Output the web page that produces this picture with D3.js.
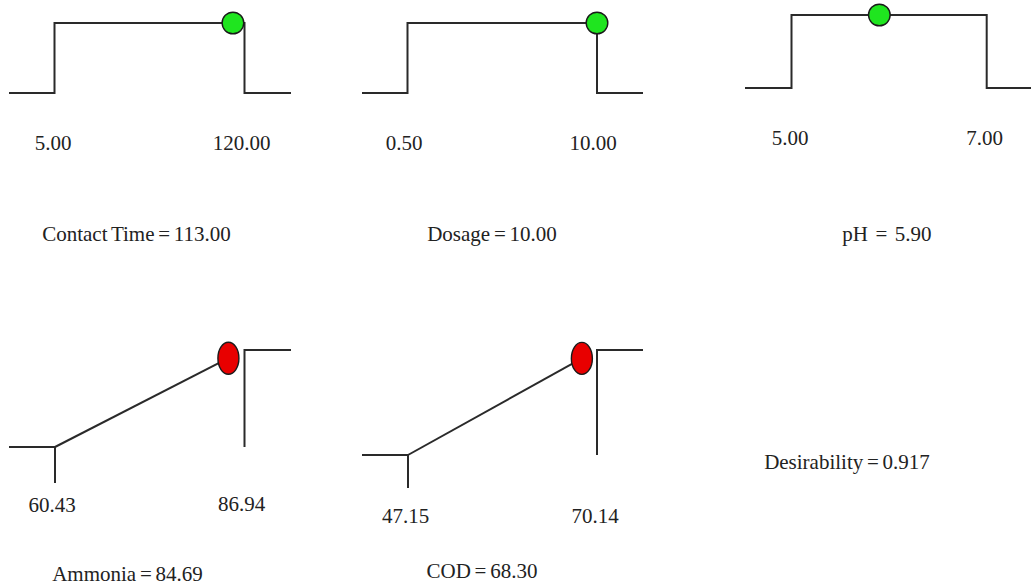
<!DOCTYPE html>
<html>
<head>
<meta charset="utf-8">
<script src="https://cdn.jsdelivr.net/npm/d3@7/dist/d3.min.js"></script>
<style>
  html, body { margin: 0; padding: 0; background: #fff; }
  svg { display: block; }
  text { font-family: "Liberation Serif", "Times New Roman", serif; fill: #222; }
</style>
</head>
<body>
<svg id="chart" width="1031" height="586"></svg>
<script>
// ---- data ----
const factorNames = ["Contact Time", "Dosage", "pH"];
const factorLow = [5, 0.5, 5];
const factorHigh = [120, 10, 7];
const factorValue = [113, 10, 5.9];
const factorLowLabel = ["5.00", "0.50", "5.00"];
const factorHighLabel = ["120.00", "10.00", "7.00"];
const factorTitle = ["Contact Time = 113.00", "Dosage = 10.00", "pH  =  5.90"];

const responseNames = ["Ammonia", "COD"];
const responseLow = [60.43, 47.15];
const responseHigh = [86.94, 70.14];
const responseValue = [84.69, 68.30];
const responseLowLabel = ["60.43", "47.15"];
const responseHighLabel = ["86.94", "70.14"];
const responseTitle = ["Ammonia = 84.69", "COD = 68.30"];

const desirabilityValue = 0.917;
const desirabilityTitle = "Desirability = 0.917";

// ---- layout ----
const factorLayout = [
  { xl: 9,   x0: 54.5,  x1: 244.5, xr: 291,  yb: 93, yt: 23, lblY: 150, lblCx: [53, 241.5], tCx: 136.5, tY: 241 },
  { xl: 362, x0: 407.5, x1: 597,   xr: 643,  yb: 93, yt: 23, lblY: 150, lblCx: [404, 593],  tCx: 492,   tY: 241 },
  { xl: 745, x0: 791.5, x1: 986.7, xr: 1035, yb: 88, yt: 15, lblY: 145, lblCx: [790, 984.5], tCx: 887,  tY: 241 }
];
const responseLayout = [
  { xl: 9,   x0: 55,  x1: 244.5, xr: 291, yb: 447, yt: 350, tick: 36, lblY: [512, 511], lblCx: [52, 241.5], tCx: 127.5, tY: 581 },
  { xl: 362, x0: 408, x1: 597,   xr: 643, yb: 455, yt: 350, tick: 33, lblY: [523, 523], lblCx: [405.5, 595], tCx: 482, tY: 578 }
];

const svg = d3.select("#chart");
const lineColor = "#2a2a2a";
const line = d3.line();
const fontSize = 21;

// ---- factor panels ----
factorNames.forEach((name, i) => {
  const L = factorLayout[i];
  const x = d3.scaleLinear().domain([factorLow[i], factorHigh[i]]).range([L.x0, L.x1]);
  const y = d3.scaleLinear().domain([0, 1]).range([L.yb, L.yt]);
  const g = svg.append("g").attr("class", "factor");
  const pts = [
    [L.xl, y(0)], [x(factorLow[i]), y(0)], [x(factorLow[i]), y(1)],
    [x(factorHigh[i]), y(1)], [x(factorHigh[i]), y(0)], [L.xr, y(0)]
  ];
  g.append("path").attr("d", line(pts)).attr("fill", "none")
    .attr("stroke", lineColor).attr("stroke-width", 2);
  g.append("circle").attr("cx", x(factorValue[i])).attr("cy", y(1)).attr("r", 10.8)
    .attr("fill", "#1fe51f").attr("stroke", "#1a1a1a").attr("stroke-width", 1.4);
  g.append("text").attr("x", L.lblCx[0]).attr("y", L.lblY).attr("text-anchor", "middle")
    .attr("font-size", fontSize).text(factorLowLabel[i]);
  g.append("text").attr("x", L.lblCx[1]).attr("y", L.lblY).attr("text-anchor", "middle")
    .attr("font-size", fontSize).text(factorHighLabel[i]);
  g.append("text").attr("x", L.tCx).attr("y", L.tY).attr("text-anchor", "middle")
    .attr("font-size", fontSize).attr("word-spacing", -1.5).style("white-space", "pre")
    .text(factorTitle[i]);
});

// ---- response panels (maximize) ----
responseNames.forEach((name, i) => {
  const L = responseLayout[i];
  const x = d3.scaleLinear().domain([responseLow[i], responseHigh[i]]).range([L.x0, L.x1]);
  const y = d3.scaleLinear().domain([0, 1]).range([L.yb, L.yt]);
  const d = (responseValue[i] - responseLow[i]) / (responseHigh[i] - responseLow[i]);
  const g = svg.append("g").attr("class", "response");
  const lo = x(responseLow[i]), hi = x(responseHigh[i]);
  g.append("path").attr("d", line([[L.xl, y(0)], [lo, y(0)], [lo, y(0) + L.tick]]))
    .attr("fill", "none").attr("stroke", lineColor).attr("stroke-width", 2);
  g.append("path").attr("d", line([[lo, y(0)], [x(responseValue[i]), y(d)]]))
    .attr("fill", "none").attr("stroke", lineColor).attr("stroke-width", 2);
  g.append("path").attr("d", line([[hi, y(0)], [hi, y(1)], [L.xr, y(1)]]))
    .attr("fill", "none").attr("stroke", lineColor).attr("stroke-width", 2);
  g.append("ellipse").attr("cx", x(responseValue[i])).attr("cy", y(d)).attr("rx", 10.5).attr("ry", 16)
    .attr("fill", "#e80000").attr("stroke", "#1a1a1a").attr("stroke-width", 1.4);
  g.append("text").attr("x", L.lblCx[0]).attr("y", L.lblY[0]).attr("text-anchor", "middle")
    .attr("font-size", fontSize).text(responseLowLabel[i]);
  g.append("text").attr("x", L.lblCx[1]).attr("y", L.lblY[1]).attr("text-anchor", "middle")
    .attr("font-size", fontSize).text(responseHighLabel[i]);
  g.append("text").attr("x", L.tCx).attr("y", L.tY).attr("text-anchor", "middle")
    .attr("font-size", fontSize).attr("word-spacing", -1.5).text(responseTitle[i]);
});

// ---- desirability ----
svg.append("text").attr("x", 847).attr("y", 469).attr("text-anchor", "middle")
  .attr("font-size", fontSize).attr("word-spacing", -1.5).text(desirabilityTitle);
</script>
</body>
</html>
